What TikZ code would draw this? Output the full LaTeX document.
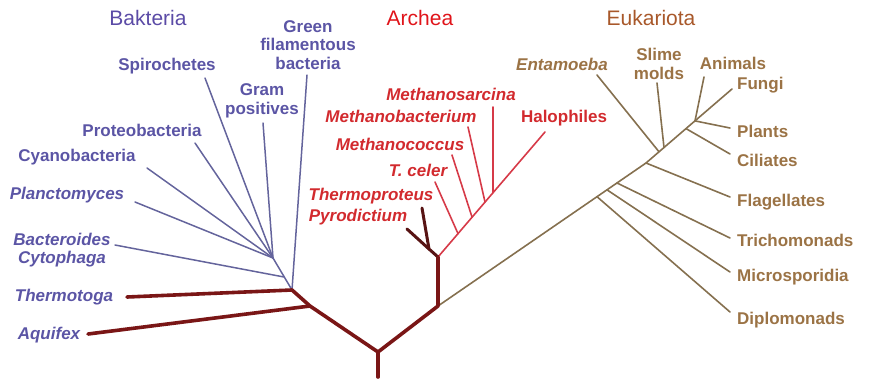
\documentclass[tikz,border=0pt]{standalone}
\usepackage{fontspec}
\setmainfont{Liberation Sans}
\definecolor{bactT}{HTML}{5B55A5}
\definecolor{bactL}{HTML}{64649C}
\definecolor{archT}{HTML}{D22A2E}
\definecolor{archL}{HTML}{D63A48}
\definecolor{eukT}{HTML}{9B7345}
\definecolor{eukL}{HTML}{85704F}
\definecolor{trunk}{HTML}{7A1616}
\definecolor{darkA}{HTML}{581414}
\definecolor{tB}{HTML}{5B4BA6}
\definecolor{tA}{HTML}{E0141A}
\definecolor{tE}{HTML}{A8582A}
\begin{document}
\begin{tikzpicture}[x=1pt,y=-1pt,
  lbl/.style={font=\fontsize{17}{18.5}\selectfont\bfseries, inner sep=0pt, align=center},
  ilbl/.style={lbl, font=\fontsize{17}{18.5}\selectfont\bfseries\itshape},
  title/.style={font=\fontsize{21}{24}\selectfont, inner sep=0pt},
  bl/.style={lbl, text=bactT}, bil/.style={ilbl, text=bactT},
  al/.style={lbl, text=archT}, ail/.style={ilbl, text=archT},
  el/.style={lbl, text=eukT}, eil/.style={ilbl, text=eukT},
  thick line/.style={draw=trunk, line width=3.6pt, line cap=round, line join=round},
  dark line/.style={draw=darkA, line width=3pt, line cap=round, line join=round},
  bline/.style={draw=bactL, line width=1.5pt, line cap=round},
  aline/.style={draw=archL, line width=1.6pt, line cap=round},
  eline/.style={draw=eukL, line width=1.6pt, line cap=round, line join=round}]
\path[use as bounding box] (0,0) rectangle (869,378);

% titles
\node[title, text=tB] (tBak) at (148,18) {Bakteria};
\node[title, text=tA] (tArc) at (420,18) {Archea};
\node[title, text=tE] (tEuk) at (651,18) {Eukariota};

% ---------- tree skeleton ----------
\coordinate (R0) at (378,377);
\coordinate (R) at (378,352);
\coordinate (A1) at (310,306);
\coordinate (B0) at (292,290);
\coordinate (B1) at (273,258);
\coordinate (B2) at (284,277);
\coordinate (A0) at (438,306);
\coordinate (A2) at (438,257);
\coordinate (P0) at (429,249);
\coordinate (E1) at (597,196.7);
\coordinate (E2) at (607,189.8);
\coordinate (E3) at (617,183);
\coordinate (E4) at (646,163);
\coordinate (E5) at (659,151.8);
\coordinate (E5b) at (664,147.5);
\coordinate (E6) at (686,128.6);
\coordinate (E7) at (695,120.9);

% ---------- Bacteria labels ----------
\node[bl] (spiro) at (167,66) {Spirochetes};
\node[bl] (green) at (308,45) {Green\\filamentous\\bacteria};
\node[bl] (gram) at (262,101) {Gram\\positives};
\node[bl] (proteo) at (142,130) {Proteobacteria};
\node[bl] (cyano) at (77,157) {Cyanobacteria};
\node[bil] (planc) at (67,195) {Planctomyces};
\node[bil] (bacter) at (62,250) {Bacteroides\\Cytophaga};
\node[bil] (thermo) at (64,297) {Thermotoga};
\node[bil] (aqui) at (49,335) {Aquifex};

\coordinate (spiroT) at (205,78);
\coordinate (greenT) at (307,75);
\coordinate (gramT) at (263,123);
\coordinate (proteoT) at (195,143);
\coordinate (cyanoT) at (147,168);
\coordinate (plancT) at (135,202);
\coordinate (bacterT) at (115,245);
\coordinate (thermoT) at (127,297);
\coordinate (aquiT) at (88,334);

% ---------- Archaea labels ----------
\node[ail] (msarc) at (451,94) {Methanosarcina};
\node[ail] (mbact) at (401,116) {Methanobacterium};
\node[ail] (mcocc) at (400,144) {Methanococcus};
\node[ail] (tceler) at (418,170) {T. celer};
\node[ail] (tprot) at (371,196) {Thermoproteus};
\node[ail] (pyro) at (358,217) {Pyrodictium};
\node[al] (halo) at (564,118) {Halophiles};

\coordinate (msarcT) at (493,107);
\coordinate (mbactT) at (468,127);
\coordinate (mcoccT) at (452,155);
\coordinate (tcelerT) at (435,182);
\coordinate (tprotT) at (422,208);
\coordinate (pyroT) at (407,229);
\coordinate (haloT) at (545,132);
\coordinate (Ms) at (493,192.7);
\coordinate (Mb) at (485,202);
\coordinate (Mc) at (472,217);
\coordinate (Tc) at (458,233.6);

% ---------- Eukaryota labels ----------
\node[eil] (entam) at (562,64) {Entamoeba};
\node[el] (slime) at (659,64) {Slime\\molds};
\node[el] (anim) at (733,63) {Animals};
\node[el, anchor=west] (fungi) at (737,85) {Fungi};
\node[el, anchor=west] (plants) at (737,131) {Plants};
\node[el, anchor=west] (cili) at (737,160) {Ciliates};
\node[el, anchor=west] (flag) at (737,202) {Flagellates};
\node[el, anchor=west] (trich) at (737,240) {Trichomonads};
\node[el, anchor=west] (micro) at (737,277) {Microsporidia};
\node[el, anchor=west] (diplo) at (737,320) {Diplomonads};

\coordinate (entamT) at (597,75);
\coordinate (slimeT) at (657,83);
\coordinate (animT) at (704,77);
\coordinate (fungiT) at (732,89);
\coordinate (plantsT) at (730,128);
\coordinate (ciliT) at (730,154);
\coordinate (flagT) at (730,197);
\coordinate (trichT) at (730,238);
\coordinate (microT) at (730,272);
\coordinate (diploT) at (730,312);

% ---------- Bacteria lines ----------
\draw[bline] (B0) -- (greenT);
\draw[bline] (B0) -- (B1);
\draw[bline] (B1) -- (spiroT);
\draw[bline] (B1) -- (gramT);
\draw[bline] (B1) -- (proteoT);
\draw[bline] (B1) -- (cyanoT);
\draw[bline] (B1) -- (plancT);
\draw[bline] (B2) -- (bacterT);

% ---------- Eukaryota lines ----------
\draw[eline] (A0) -- (E4) -- (fungiT);
\draw[eline] (E1) -- (diploT);
\draw[eline] (E2) -- (microT);
\draw[eline] (E3) -- (trichT);
\draw[eline] (E4) -- (flagT);
\draw[eline] (E5) -- (entamT);
\draw[eline] (E5b) -- (slimeT);
\draw[eline] (E6) -- (ciliT);
\draw[eline] (E7) -- (animT);
\draw[eline] (E7) -- (plantsT);

% ---------- Archaea lines ----------
\draw[aline] (A2) -- (haloT);
\draw[aline] (Ms) -- (msarcT);
\draw[aline] (Mb) -- (mbactT);
\draw[aline] (Mc) -- (mcoccT);
\draw[aline] (Tc) -- (tcelerT);
\draw[dark line] (A2) -- (P0) -- (tprotT);
\draw[dark line] (P0) -- (pyroT);

% ---------- thick trunk ----------
\draw[thick line] (R0) -- (R);
\draw[thick line] (R) -- (A1) -- (B0);
\draw[thick line] (B0) -- (thermoT);
\draw[thick line] (A1) -- (aquiT);
\draw[thick line] (R) -- (A0) -- (A2);
\end{tikzpicture}
\end{document}
